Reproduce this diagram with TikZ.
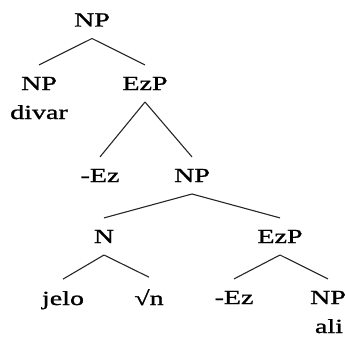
\documentclass[tikz,border=0pt]{standalone}
\usepackage{fontspec}
\newfontfamily\treefont[FakeStretch=1.4,FakeBold=1.2]{Liberation Serif}
\begin{document}
\begin{tikzpicture}[x=1pt,y=-1pt,
  lbl/.style={inner xsep=0pt,inner ysep=12pt,outer sep=0pt,anchor=base,font=\treefont\fontsize{20}{22}\selectfont},
  edge/.style={line width=1.1pt,draw=black!85}]
\useasboundingbox (0,0) rectangle (345,337);
\node[lbl] (np0) at (92,26.5) {NP};
\node[lbl] (np1) at (39,90) {NP};
\node[lbl] (divar) at (39,119) {divar};
\node[lbl] (ezp1) at (145,90) {EzP};
\node[lbl] (ez1) at (100,182) {-Ez};
\node[lbl] (np2) at (192,182) {NP};
\node[lbl] (n) at (104,243) {N};
\node[lbl] (ezp2) at (280,243) {EzP};
\node[lbl] (jelo) at (63,305) {jelo};
\node[lbl] (root) at (149,305) {√n};
\node[lbl] (ez2) at (234,304) {-Ez};
\node[lbl] (np3) at (328,304) {NP};
\node[lbl] (ali) at (329,333) {ali};
\draw[edge] (np0.south) -- (np1.north);
\draw[edge] (np0.south) -- (ezp1.north);
\draw[edge] (ezp1.south) -- (ez1.north);
\draw[edge] (ezp1.south) -- (np2.north);
\draw[edge] (np2.south) -- (n.north);
\draw[edge] (np2.south) -- (ezp2.north);
\draw[edge] (n.south) -- (jelo.north);
\draw[edge] (n.south) -- (root.north);
\draw[edge] (ezp2.south) -- (ez2.north);
\draw[edge] (ezp2.south) -- (np3.north);
\end{tikzpicture}
\end{document}
